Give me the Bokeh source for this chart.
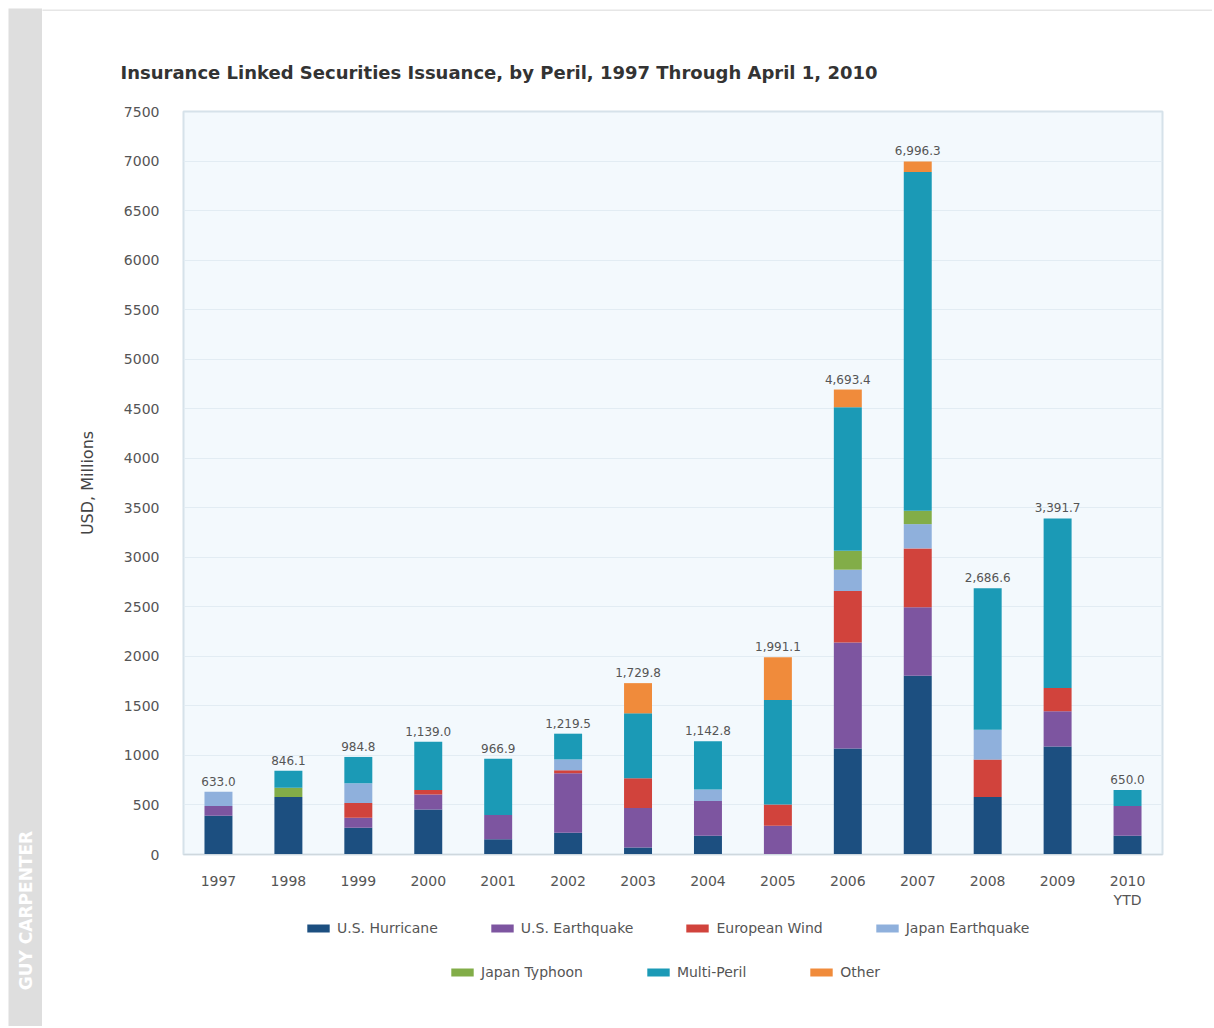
from math import pi
from bokeh.plotting import figure
from bokeh.models import ColumnDataSource, Legend, LegendItem, FactorRange, Range1d, SingleIntervalTicker
from bokeh.layouts import row, column
from bokeh.core.properties import value
from bokeh.embed import file_html
from bokeh.resources import INLINE

years = ["1997", "1998", "1999", "2000", "2001", "2002", "2003", "2004",
         "2005", "2006", "2007", "2008", "2009", "2010\nYTD"]
series_names = ["U.S. Hurricane", "U.S. Earthquake", "European Wind", "Japan Earthquake",
                "Japan Typhoon", "Multi-Peril", "Other"]
us_hurricane = [390, 580, 270, 455, 154, 220, 70, 190, 0, 1070, 1805, 580, 1090, 190]
us_earthquake = [100, 0, 100, 150, 245, 600, 400, 350, 290, 1070, 690, 0, 355, 300]
european_wind = [0, 0, 150, 45, 0, 30, 300, 0, 215, 520, 595, 378, 235, 0]
japan_earthquake = [143, 0, 200, 0, 0, 110, 0, 115, 0, 215, 245, 302, 0, 0]
japan_typhoon = [0, 93, 0, 0, 0, 0, 0, 0, 0, 190, 135, 0, 0, 0]
multi_peril = [0, 173.1, 264.8, 489, 567.9, 259.5, 655, 487.8, 1055, 1450, 3420, 1426.6, 1711.7, 160]
other = [0, 0, 0, 0, 0, 0, 304.8, 0, 431.1, 178.4, 106.3, 0, 0, 0]
colors = ["#1c4f80", "#7d55a0", "#d1433c", "#8fb0dc", "#82ad48", "#1b9ab6", "#f08b3b"]

keys = ["hur", "usq", "ew", "jeq", "jt", "mp", "oth"]
series = [us_hurricane, us_earthquake, european_wind, japan_earthquake, japan_typhoon, multi_peril, other]
data = {"year": years}
for k, s in zip(keys, series):
    data[k] = s
totals = [sum(vals) for vals in zip(*series)]
data["total"] = totals
data["label"] = ["{:,.1f}".format(t) for t in totals]
source = ColumnDataSource(data)

FONT = "DejaVu Sans"
TXT = "#555555"

# ---------------- main chart ----------------
p = figure(x_range=FactorRange(*years), y_range=Range1d(0, 7500),
           width=1170, height=899, output_backend="svg", toolbar_location=None,
           min_border_left=141, min_border_right=50, min_border_top=100, min_border_bottom=50)
p.background_fill_color = "#f3f9fd"
p.border_fill_color = "white"
p.outline_line_color = "#d6e2ea"
p.outline_line_width = 2

renderers = p.vbar_stack(keys, x="year", width=0.4, color=colors, line_color=None, source=source)

p.text(x="year", y="total", text="label", source=source, text_align="center", text_baseline="bottom",
       y_offset=-6, text_font=value(FONT), text_font_size="12px", text_color=TXT)

p.title.text = "Insurance Linked Securities Issuance, by Peril, 1997 Through April 1, 2010"
p.title.text_font = FONT
p.title.text_font_size = "18px"
p.title.text_font_style = "bold"
p.title.text_color = "#333333"
p.title.align = "left"
p.title.offset = -63
p.title.standoff = 58

p.yaxis.ticker = SingleIntervalTicker(interval=500)
p.yaxis.axis_label = "USD, Millions"
p.yaxis.axis_label_text_font = FONT
p.yaxis.axis_label_text_font_style = "normal"
p.yaxis.axis_label_text_font_size = "16px"
p.yaxis.axis_label_text_color = "#444444"
p.yaxis.axis_label_standoff = 24
p.yaxis.major_label_text_font = FONT
p.yaxis.major_label_text_font_size = "14px"
p.yaxis.major_label_text_color = TXT
p.yaxis.major_label_standoff = 18
p.yaxis.axis_line_color = None
p.yaxis.major_tick_line_color = None
p.yaxis.minor_tick_line_color = None

p.xaxis.major_label_text_font = FONT
p.xaxis.major_label_text_font_size = "14px"
p.xaxis.major_label_text_color = TXT
p.xaxis.major_label_standoff = 12
p.xaxis.axis_line_color = "#cfd8de"
p.xaxis.major_tick_line_color = None
p.xaxis.minor_tick_line_color = None

p.xgrid.grid_line_color = None
p.ygrid.grid_line_color = "#e2ecf3"
p.ygrid.grid_line_width = 1

# ---------------- legend strip (same series, hidden renderers) ----------------
leg = figure(width=1170, height=116, x_range=FactorRange(*years), y_range=Range1d(0, 7500),
             output_backend="svg", toolbar_location=None,
             x_axis_location=None, y_axis_location=None,
             min_border_left=0, min_border_right=0, min_border_top=0, min_border_bottom=0)
leg.frame_align = False
leg.grid.visible = False
leg.outline_line_color = None
leg.background_fill_color = "white"
leg.border_fill_color = "white"
swatches = leg.vbar_stack(keys, x="year", width=0.4, color=colors, line_color=None, source=source)
for r in swatches:
    r.visible = False
items = [LegendItem(label=n, renderers=[r]) for n, r in zip(series_names, swatches)]
for chunk, loc, sp in ((items[:4], (262, 90), 50), (items[4:], (406, 46), 61)):
    lg = Legend(items=chunk, orientation="horizontal", location=loc,
                glyph_width=28, glyph_height=10, label_standoff=5, spacing=sp,
                padding=4, margin=0, border_line_color=None, background_fill_alpha=0,
                label_text_font=FONT, label_text_font_size="14px", label_text_color=TXT)
    leg.add_layout(lg)

# ---------------- top rule ----------------
top = figure(width=1170, height=11, x_range=Range1d(0, 1), y_range=Range1d(0, 1),
             output_backend="svg", toolbar_location=None,
             x_axis_location=None, y_axis_location=None,
             min_border_left=0, min_border_right=0, min_border_top=8, min_border_bottom=0)
top.frame_align = False
top.grid.visible = False
top.outline_line_color = None
top.background_fill_color = "#e6e6e6"
top.border_fill_color = "white"

# ---------------- left band ----------------
band = figure(width=42, height=1026, x_range=Range1d(0, 42), y_range=Range1d(0, 1026),
              output_backend="svg", toolbar_location=None,
              x_axis_location=None, y_axis_location=None,
              min_border_left=0, min_border_right=0, min_border_top=0, min_border_bottom=0)
band.frame_align = False
band.grid.visible = False
band.outline_line_color = None
band.background_fill_color = "white"
band.border_fill_color = "white"
band.quad(left=[8], right=[42], bottom=[0], top=[1018], color="#dedede", line_color=None)
band.text(x=[25], y=[116], text=["GUY CARPENTER"], angle=pi / 2, text_align="center",
          text_baseline="middle", text_font=value(FONT), text_font_style="bold",
          text_font_size="17px", text_color="white")

layout = row(band, column(top, p, leg, spacing=0), spacing=0)
open("out.html", "w").write(file_html(layout, INLINE))
